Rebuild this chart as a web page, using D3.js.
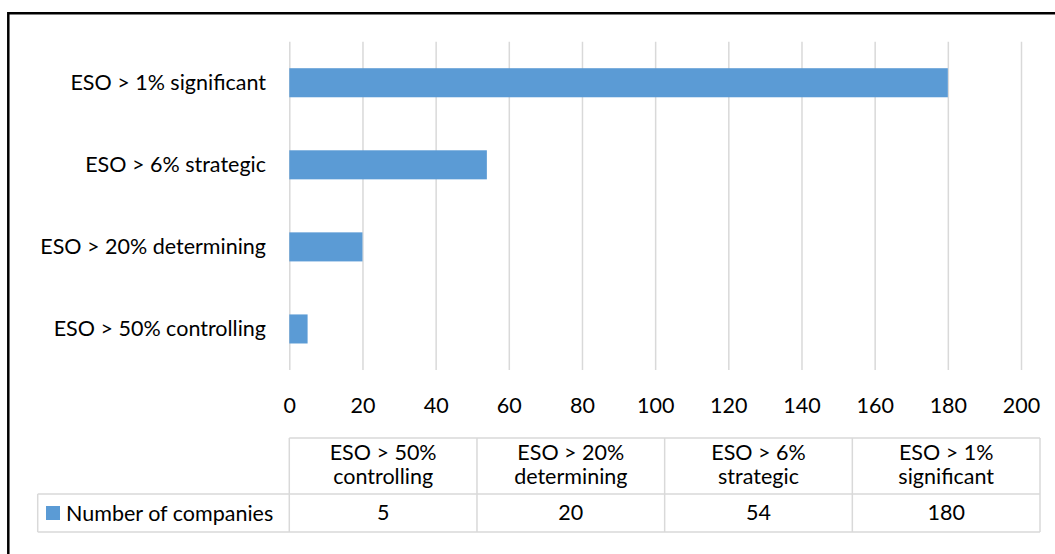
<!DOCTYPE html>
<html>
<head>
<meta charset="utf-8">
<script src="https://cdn.jsdelivr.net/npm/d3@7"></script>
<style>
  body { margin: 0; background: #fff; }
  svg { display: block; }
  text { font-family: Lato, "Open Sans", sans-serif; fill: #000; }
</style>
</head>
<body>
<svg id="chart" width="1055" height="554"></svg>
<script>
// Categories, top to bottom on the bar chart
const categories = [
  "ESO > 1% significant",
  "ESO > 6% strategic",
  "ESO > 20% determining",
  "ESO > 50% controlling"
];
// Number of companies per category (same order)
const companies = [180, 54, 20, 5];
const seriesName = "Number of companies";
const xTicks = [0, 20, 40, 60, 80, 100, 120, 140, 160, 180, 200];
const xDomain = [0, 200];
// Data table lists the categories from the bottom bar upwards
const tableCategories = categories.slice().reverse();
const tableValues = companies.slice().reverse();

const barColor = "#5B9BD5";
const gridColor = "#D9D9D9";
const fontSize = 21.5;

const svg = d3.select("#chart");

// Outer chart frame (only top and left edges fall inside the canvas)
svg.append("path")
  .attr("d", "M8.3,600V13.3H1100")
  .attr("fill", "none")
  .attr("stroke", "#000")
  .attr("stroke-width", 2.5);

const plot = { left: 289.3, right: 1021, top: 41.7, bottom: 370 };

const x = d3.scaleLinear().domain(xDomain).range([plot.left, plot.right]);
const y = d3.scaleBand()
  .domain(categories)
  .range([plot.top, plot.bottom])
  .paddingInner(0.646)
  .paddingOuter(0.323);

// Vertical gridlines and value labels
const xAxis = svg.append("g")
  .attr("transform", `translate(0,${plot.bottom})`)
  .call(d3.axisBottom(x)
    .tickValues(xTicks)
    .tickSize(-(plot.bottom - plot.top))
    .tickFormat(d3.format("d")));
xAxis.select(".domain").remove();
xAxis.selectAll(".tick line")
  .attr("stroke", gridColor)
  .attr("stroke-width", 1.5);
xAxis.selectAll(".tick text")
  .attr("y", 35)
  .attr("dy", "0.35em")
  .attr("fill", "#000")
  .style("font-size", fontSize + "px")
  .style("font-family", "Lato, 'Open Sans', sans-serif");

// Bars
svg.append("g")
  .selectAll("rect")
  .data(categories.map((c, i) => ({ c, v: companies[i] })))
  .join("rect")
  .attr("x", x(0))
  .attr("y", d => y(d.c))
  .attr("width", d => x(d.v) - x(0))
  .attr("height", y.bandwidth())
  .attr("fill", barColor);

// Category labels
svg.append("g")
  .selectAll("text")
  .data(categories)
  .join("text")
  .attr("x", 266)
  .attr("y", d => y(d) + y.bandwidth() / 2)
  .attr("dy", "0.35em")
  .attr("text-anchor", "end")
  .style("font-size", fontSize + "px")
  .text(d => d);

// Data table below the axis
const table = { left: 37.7, colLeft: 289.3, right: 1040, top: 438, mid: 494, bottom: 532 };
const col = d3.scaleBand()
  .domain(tableCategories)
  .range([table.colLeft, table.right]);

const tg = svg.append("g");
const lineAttrs = sel => sel.attr("stroke", gridColor).attr("stroke-width", 1.5);

tg.append("line").attr("x1", table.colLeft).attr("x2", table.right)
  .attr("y1", table.top).attr("y2", table.top).call(lineAttrs);
tg.append("line").attr("x1", table.left).attr("x2", table.right)
  .attr("y1", table.mid).attr("y2", table.mid).call(lineAttrs);
tg.append("line").attr("x1", table.left).attr("x2", table.right)
  .attr("y1", table.bottom).attr("y2", table.bottom).call(lineAttrs);
tg.append("line").attr("x1", table.left).attr("x2", table.left)
  .attr("y1", table.mid).attr("y2", table.bottom).call(lineAttrs);
tg.selectAll("line.col")
  .data(tableCategories.map(c => col(c)).concat([table.right]))
  .join("line")
  .attr("class", "col")
  .attr("x1", d => d).attr("x2", d => d)
  .attr("y1", table.top).attr("y2", table.bottom)
  .call(lineAttrs);

// Column headers, wrapped after the threshold
tg.selectAll("text.head")
  .data(tableCategories)
  .join("text")
  .attr("class", "head")
  .attr("text-anchor", "middle")
  .style("font-size", fontSize + "px")
  .each(function (d) {
    const cut = d.indexOf("% ") + 1;
    const lines = [d.slice(0, cut), d.slice(cut + 1)];
    const cx = col(d) + col.bandwidth() / 2;
    d3.select(this).selectAll("tspan")
      .data(lines)
      .join("tspan")
      .attr("x", cx)
      .attr("y", (l, i) => 452 + i * 24)
      .attr("dy", "0.35em")
      .text(l => l);
  });

// Values row
tg.selectAll("text.val")
  .data(tableCategories.map((c, i) => ({ c, v: tableValues[i] })))
  .join("text")
  .attr("class", "val")
  .attr("x", d => col(d.c) + col.bandwidth() / 2)
  .attr("y", 512)
  .attr("dy", "0.35em")
  .attr("text-anchor", "middle")
  .style("font-size", fontSize + "px")
  .text(d => d.v);

// Series key inside the table
tg.append("rect")
  .attr("x", 46).attr("y", 506)
  .attr("width", 14).attr("height", 14)
  .attr("fill", barColor);
tg.append("text")
  .attr("x", 66).attr("y", 513)
  .attr("dy", "0.35em")
  .style("font-size", fontSize + "px")
  .text(seriesName);
</script>
</body>
</html>
